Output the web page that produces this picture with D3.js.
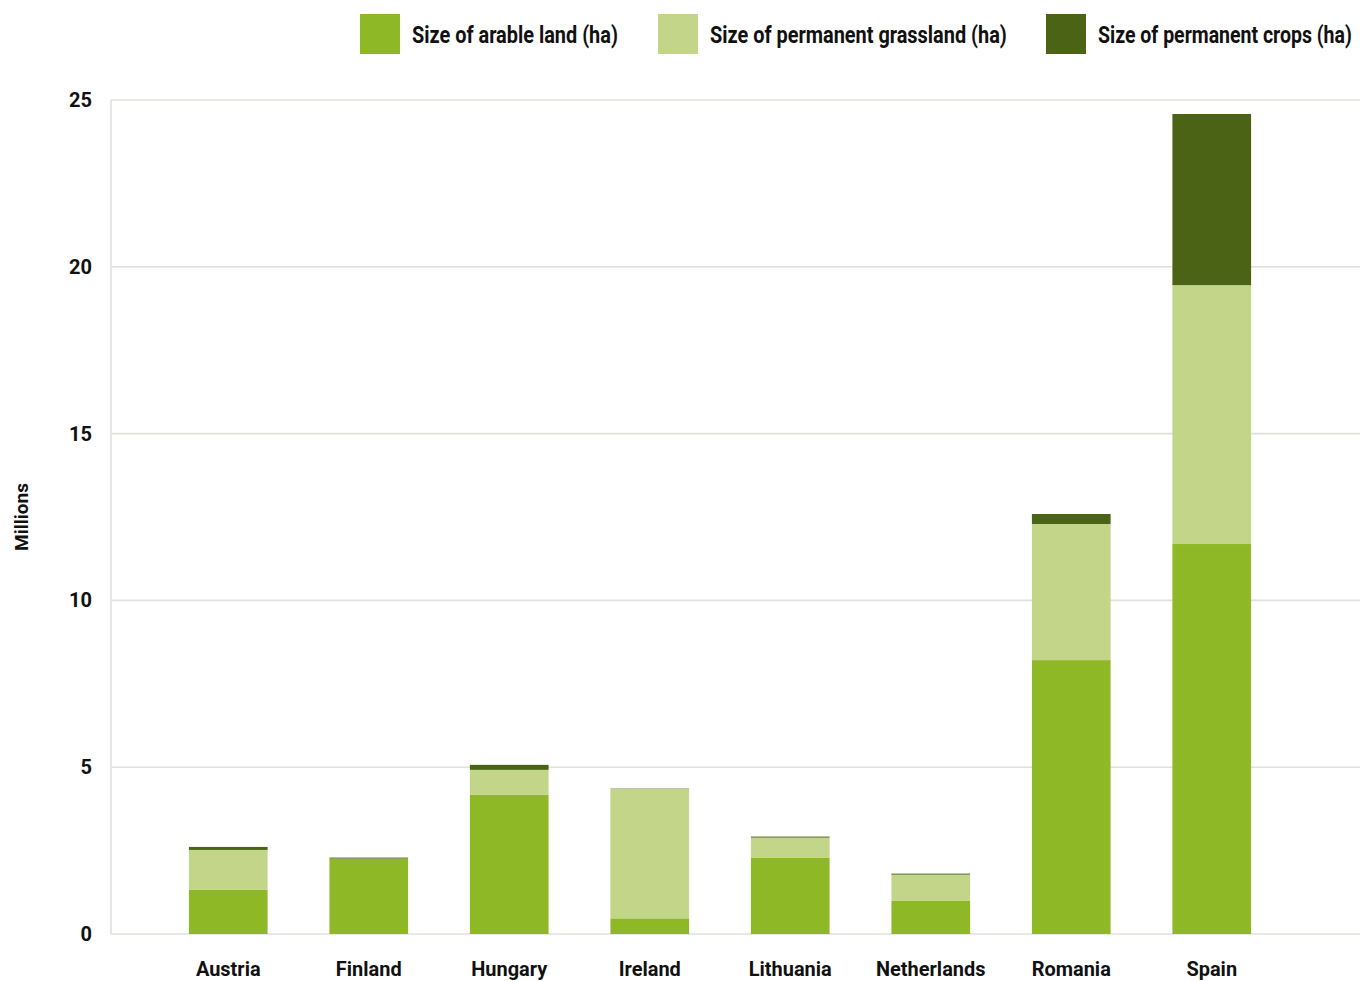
<!DOCTYPE html>
<html>
<head>
<meta charset="utf-8">
<script src="https://cdn.jsdelivr.net/npm/d3@7"></script>
<style>
  html, body { margin: 0; padding: 0; background: #ffffff; }
  svg { display: block; }
  text { font-family: "Roboto", "Liberation Sans", sans-serif; font-weight: 700; fill: #111; }
</style>
</head>
<body>
<svg id="chart" width="1360" height="981"></svg>
<script>
// Agricultural area by country, in millions of hectares
const countries = ["Austria", "Finland", "Hungary", "Ireland", "Lithuania", "Netherlands", "Romania", "Spain"];
const arableLand = [1.32, 2.25, 4.17, 0.47, 2.28, 0.99, 8.21, 11.69];
const permanentGrassland = [1.20, 0.01, 0.75, 3.88, 0.61, 0.79, 4.08, 7.76];
const permanentCrops = [0.09, 0.03, 0.15, 0.01, 0.03, 0.03, 0.30, 5.13];
const seriesNames = ["Size of arable land (ha)", "Size of permanent grassland (ha)", "Size of permanent crops (ha)"];
const seriesColors = ["#8fb827", "#c3d588", "#4b6314"];
const yTicks = [0, 5, 10, 15, 20, 25];

const svg = d3.select("#chart");

const plotLeft = 111, plotRight = 1360, plotTop = 100, plotBottom = 934;

const y = d3.scaleLinear().domain([0, 25]).range([plotBottom, plotTop]);
const x = d3.scaleBand().domain(countries).range([158, 1282]).paddingInner(0.44).paddingOuter(0.22);

// Gridlines
svg.append("g").selectAll("line").data(yTicks).join("line")
  .attr("x1", plotLeft).attr("x2", plotRight)
  .attr("y1", d => y(d)).attr("y2", d => y(d))
  .attr("stroke", "#e0e0dc").attr("stroke-width", 1.6);

// Left axis line
svg.append("line")
  .attr("x1", plotLeft).attr("x2", plotLeft)
  .attr("y1", plotTop).attr("y2", plotBottom)
  .attr("stroke", "#e0e0dc").attr("stroke-width", 1.6);

// Y tick labels
const yAxis = d3.axisLeft(y).tickValues(yTicks).tickSize(0).tickPadding(19);
const yg = svg.append("g").attr("transform", `translate(${plotLeft},0)`).call(yAxis);
yg.select(".domain").remove();
yg.selectAll("text").attr("font-size", 20).attr("font-family", null);

// Y axis title
svg.append("text")
  .attr("transform", "translate(28,517) rotate(-90)")
  .attr("text-anchor", "middle")
  .attr("font-size", 19)
  .text("Millions");

// Stacked bars
const rows = countries.map((c, i) => ({
  country: c, arable: arableLand[i], grass: permanentGrassland[i], crops: permanentCrops[i]
}));
const stack = d3.stack().keys(["arable", "grass", "crops"]);
const layers = stack(rows);

svg.append("g").selectAll("g").data(layers).join("g")
  .attr("fill", (d, i) => seriesColors[i])
  .selectAll("rect").data(d => d).join("rect")
  .attr("x", d => x(d.data.country))
  .attr("width", x.bandwidth())
  .attr("y", d => y(d[1]))
  .attr("height", d => y(d[0]) - y(d[1]));

// X labels
const xAxis = d3.axisBottom(x).tickSize(0).tickPadding(27);
const xg = svg.append("g").attr("transform", `translate(0,${plotBottom})`).call(xAxis);
xg.select(".domain").remove();
xg.selectAll("text").attr("font-size", 21).attr("font-family", null)
  .attr("textLength", function () { return this.getComputedTextLength() * 0.95; })
  .attr("lengthAdjust", "spacingAndGlyphs");

// Legend: condensed labels, squeezed horizontally to a set width
const legendX = [360, 658, 1046];
const legendTextW = [206, 297, 254];
const lg = svg.append("g").selectAll("g").data(seriesNames).join("g")
  .attr("transform", (d, i) => `translate(${legendX[i]},14)`);
lg.append("rect").attr("width", 40).attr("height", 40).attr("fill", (d, i) => seriesColors[i]);
lg.append("text").attr("font-size", 23)
  .text(d => d)
  .attr("transform", function (d, i) {
    const sx = legendTextW[i] / this.getComputedTextLength();
    return `translate(52,29) scale(${sx},1)`;
  });
</script>
</body>
</html>
